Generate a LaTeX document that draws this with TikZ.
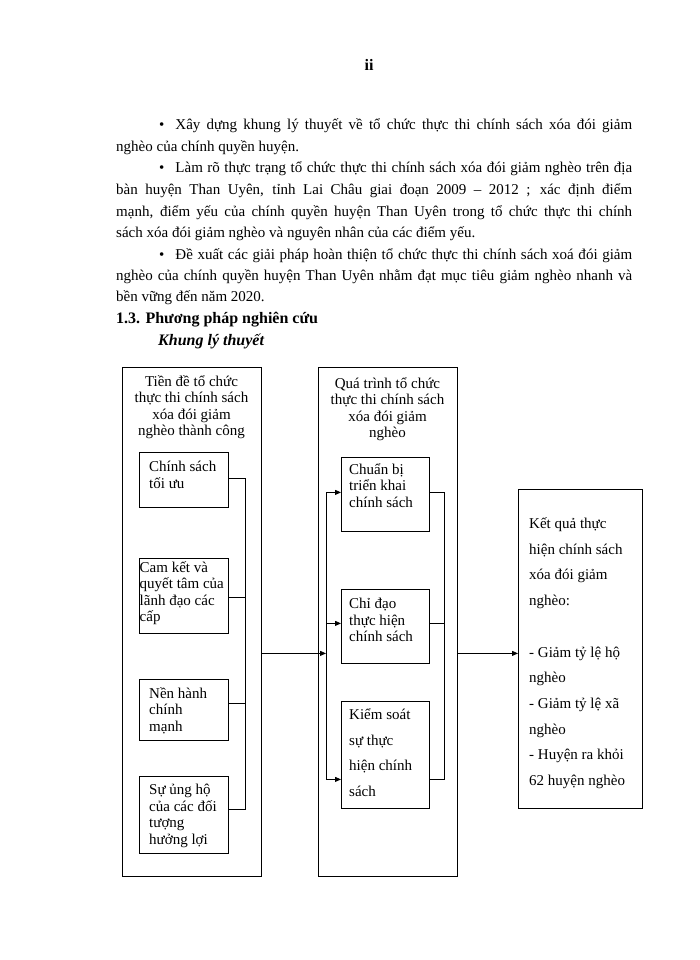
\documentclass[tikz,border=0pt]{standalone}
\usepackage{fontspec}
\setmainfont{Liberation Serif}
\usetikzlibrary{arrows.meta}
\def\fullline#1#2{\makebox[#1][s]{#2}}

\begin{document}
\begin{tikzpicture}[x=1pt, y=-1pt,
	body/.style={anchor=base west, inner sep=0pt, font=\fontsize{15}{18}\selectfont},
	box/.style={draw, line width=0.8pt, anchor=north west, inner sep=0pt},
	txt/.style={anchor=north west, inner sep=0pt, align=left, font=\fontsize{15}{16.5}\selectfont, execute at begin node=\strut},
	wide/.style={txt, font=\fontsize{15}{25.7}\selectfont},
	conn/.style={line width=0.8pt},
	arr/.style={line width=0.8pt, -{Triangle[length=6pt,width=5pt]}}]
	%%%%% START %%%%%
	
	\useasboundingbox (0,0) rectangle (700,960);
	
	\node[body, font=\fontsize{16}{18}\selectfont\bfseries, anchor=base] (pg) at (369,71) {ii};
	
	\node[body] (l1) at (159,130) {\fullline{473pt}{\textbullet\hspace{11pt}Xây dựng khung lý thuyết về tổ chức thực thi chính sách xóa đói giảm}};
	\node[body] (l2) at (116,152) {nghèo của chính quyền huyện.};
	\node[body] (l3) at (159,173) {\fullline{473pt}{\textbullet\hspace{11pt}Làm rõ thực trạng tổ chức thực thi chính sách xóa đói giảm nghèo trên địa}};
	\node[body] (l4) at (116,194) {\fullline{516pt}{bàn huyện Than Uyên, tỉnh Lai Châu giai đoạn 2009 – 2012 ; xác định điểm}};
	\node[body] (l5) at (116,216) {\fullline{516pt}{mạnh, điểm yếu của chính quyền huyện Than Uyên trong tổ chức thực thi chính}};
	\node[body] (l6) at (116,237) {sách xóa đói giảm nghèo và nguyên nhân của các điểm yếu.};
	\node[body] (l7) at (159,259) {\fullline{473pt}{\textbullet\hspace{11pt}Đề xuất các giải pháp hoàn thiện tổ chức thực thi chính sách xoá đói giảm}};
	\node[body] (l8) at (116,280) {\fullline{516pt}{nghèo của chính quyền huyện Than Uyên nhằm đạt mục tiêu giảm nghèo nhanh và}};
	\node[body] (l9) at (116,301) {bền vững đến năm 2020.};
	
	\node[body, font=\fontsize{16}{18}\selectfont\bfseries] (sec) at (116,323) {1.3. Phương pháp nghiên cứu};
	\node[body, font=\fontsize{16}{18}\selectfont\bfseries\itshape] (sub) at (158,345) {Khung lý thuyết};
	
	% three big boxes
	\node[box, minimum width=139pt, minimum height=509pt] (pre) at (122,367) {};
	\node[box, minimum width=139pt, minimum height=509pt] (proc) at (318,367) {};
	\node[box, minimum width=124pt, minimum height=319pt] (res) at (518,489) {};
	
	\node[txt, align=center, anchor=north] (pre-t) at (191.5,375) {Tiền đề tổ chức\\thực thi chính sách\\xóa đói giảm\\nghèo thành công};
	\node[txt, align=center, anchor=north] (proc-t) at (387.5,377) {Quá trình tổ chức\\thực thi chính sách\\xóa đói giảm\\nghèo};
	\node[wide] (res-t) at (529,517.5) {Kết quả thực\\hiện chính sách\\xóa đói giảm\\nghèo:\\[25.7pt]- Giảm tỷ lệ hộ\\nghèo\\- Giảm tỷ lệ xã\\nghèo\\- Huyện ra khỏi\\62 huyện nghèo};
	
	% left column
	\node[box, minimum width=89pt, minimum height=55pt] (cs) at (139,452) {};
	\node[box, minimum width=89pt, minimum height=75pt] (ck) at (139,558) {};
	\node[box, minimum width=89pt, minimum height=61pt] (nh) at (139,679) {};
	\node[box, minimum width=89pt, minimum height=77pt] (su) at (139,776) {};
	
	\node[txt] (cs-t) at (149,461) {Chính sách\\tối ưu};
	\node[txt] (ck-t) at (139.5,561) {Cam kết và\\quyết tâm của\\lãnh đạo các\\cấp};
	\node[txt] (nh-t) at (149,687) {Nền hành\\chính\\mạnh};
	\node[txt] (su-t) at (149,784) {Sự ủng hộ\\của các đối\\tượng\\hưởng lợi};
	
	% middle column
	\node[box, minimum width=88pt, minimum height=74pt] (cb) at (341,457) {};
	\node[box, minimum width=88pt, minimum height=74pt] (cd) at (341,589) {};
	\node[box, minimum width=88pt, minimum height=107pt] (ks) at (341,701) {};
	
	\node[txt] (cb-t) at (349,463) {Chuẩn bị\\triển khai\\chính sách};
	\node[txt] (cd-t) at (349,598) {Chỉ đạo\\thực hiện\\chính sách};
	\node[wide] (ks-t) at (349,708.5) {Kiểm soát\\sự thực\\hiện chính\\sách};
	
	% bars and connectors
	\coordinate (lbar) at (245,0);
	\coordinate (mbar) at (326,0);
	\coordinate (rbar) at (444,0);
	
	\coordinate (csout) at ([yshift=1.5pt]cs.east);
	\coordinate (ckout) at ([yshift=-1.5pt]ck.east);
	\coordinate (nhout) at ([yshift=6.5pt]nh.east);
	\coordinate (suout) at ([yshift=5.5pt]su.east);
	\draw[conn] (csout) -- (csout -| lbar) -- (suout -| lbar) -- (suout);
	\draw[conn] (ckout) -- (ckout -| lbar);
	\draw[conn] (nhout) -- (nhout -| lbar);
	
	\coordinate (cbin) at ([yshift=2pt]cb.west);
	\coordinate (cdin) at ([yshift=3pt]cd.west);
	\coordinate (ksin) at ([yshift=-24.5pt]ks.west);
	\draw[conn] (cbin -| mbar) -- (ksin -| mbar);
	\draw[arr] (cbin -| mbar) -- (cbin);
	\draw[arr] (cdin -| mbar) -- (cdin);
	\draw[arr] (ksin -| mbar) -- (ksin);
	
	\draw[conn] (cbin -| cb.east) -- (cbin -| rbar) -- (ksin -| rbar) -- (ksin -| ks.east);
	\draw[conn] (cdin -| cd.east) -- (cdin -| rbar);
	
	\coordinate (preout) at ([yshift=-31.5pt]pre.east);
	\draw[arr] (preout) -- (preout -| mbar);
	\coordinate (procout) at (proc.east |- preout);
	\draw[arr] (procout) -- (procout -| res.west);
	
	%%%%% END %%%%%
\end{tikzpicture}
\end{document}
